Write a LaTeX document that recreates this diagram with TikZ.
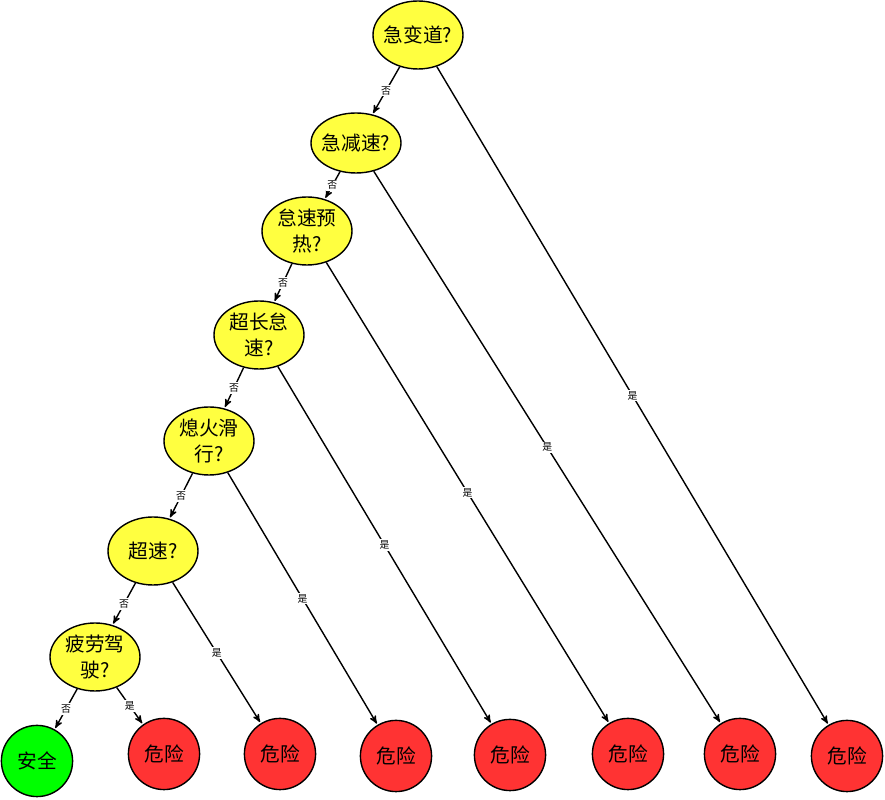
\documentclass[tikz,border=0pt]{standalone}
\usepackage{fontspec}
\setmainfont{Noto Sans CJK SC}
\usepackage{tikz}
\usetikzlibrary{calc,shapes,arrows}
\definecolor{askyellow}{HTML}{FFFF40}
\definecolor{riskred}{HTML}{FF3333}
\definecolor{safegreen}{HTML}{00FF00}

\begin{document}
\begin{tikzpicture}[->,>=stealth',shorten >=1pt,line width=1pt,
                    inner sep=2pt,
                    question/.style={ellipse,draw,fill=askyellow,minimum width=2.25cm,minimum height=1.7cm,
                                     inner xsep=-5pt,inner ysep=1pt,
                                     align=center,font=\fontsize{14}{18}\selectfont},
                    leaf/.style={circle,draw,minimum size=1.78cm,font=\fontsize{14}{18}\selectfont},
                    answer/.style={fill=white,inner sep=1pt,font=\fontsize{7}{8}\selectfont}]
\useasboundingbox (0,0) rectangle (22.125,20);
%
\node[question] (1) at (10.45, 19.125)                  {急变道?};
\node[question,minimum height=1.5cm] (2) at ($ (1) + (-1.55, -2.7) $) {急减速?};
\node[question] (3) at ($ (2) + (-1.225, -2.2) $)  {怠速预\\热?};
\node[question] (4) at ($ (3) + (-1.2, -2.6) $)    {超长怠\\速?};
\node[question] (5) at ($ (4) + (-1.25, -2.65) $)  {熄火滑\\行?};
\node[question] (6) at ($ (5) + (-1.4, -2.75) $)   {超速?};
\node[question] (7) at ($ (6) + (-1.45, -2.65) $)  {疲劳驾\\驶?};
%
\node[leaf,fill=safegreen] (s)  at (0.925, 0.975) {安全};
\node[leaf,fill=riskred]   (r1) at (4.1, 1.15)    {危险};
\node[leaf,fill=riskred]   (r2) at (7.0, 1.15)    {危险};
\node[leaf,fill=riskred]   (r3) at (9.9, 1.1)     {危险};
\node[leaf,fill=riskred]   (r4) at (12.75, 1.125) {危险};
\node[leaf,fill=riskred]   (r5) at (15.7, 1.15)   {危险};
\node[leaf,fill=riskred]   (r6) at (18.5, 1.15)   {危险};
\node[leaf,fill=riskred]   (r7) at (21.175, 1.1)  {危险};
%
\path
  (1) edge node[answer] {否} (2)
  (2) edge node[answer] {否} (3)
  (3) edge node[answer] {否} (4)
  (4) edge node[answer] {否} (5)
  (5) edge node[answer] {否} (6)
  (6) edge node[answer] {否} (7)
  (7) edge node[answer] {否} (s)
  (7) edge node[answer] {是} (r1)
  (6) edge node[answer] {是} (r2)
  (5) edge node[answer] {是} (r3)
  (4) edge node[answer] {是} (r4)
  (3) edge node[answer] {是} (r5)
  (2) edge node[answer] {是} (r6)
  (1) edge node[answer] {是} (r7)
  ;
\end{tikzpicture}
\end{document}
